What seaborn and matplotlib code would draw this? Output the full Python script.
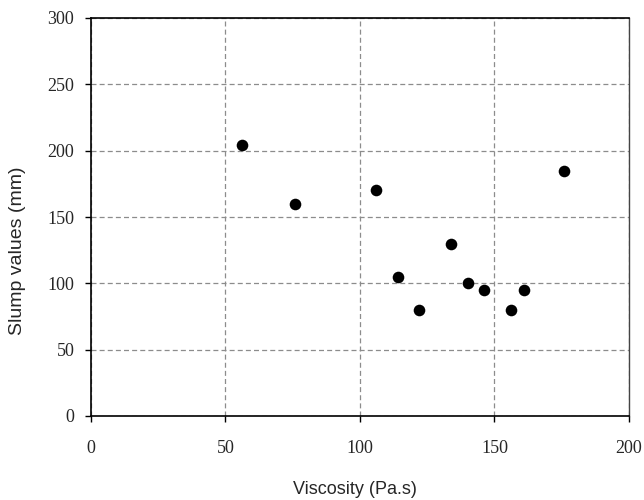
import matplotlib
matplotlib.use("Agg")
import matplotlib.pyplot as plt
import seaborn as sns
import pandas as pd

viscosity = [56, 76, 106, 114, 122, 134, 140, 146, 156, 161, 176]
slump = [204, 160, 170, 105, 80, 130, 100, 95, 80, 95, 185]
x_ticks = [0, 50, 100, 150, 200]
y_ticks = [0, 50, 100, 150, 200, 250, 300]

df = pd.DataFrame({"Viscosity": viscosity, "Slump": slump})

sns.set_style("white")
fig = plt.figure(figsize=(6.44, 5.0), dpi=100)
ax = fig.add_axes([0.1413, 0.168, 0.8354, 0.796])

sns.scatterplot(data=df, x="Viscosity", y="Slump", ax=ax, color="black",
                s=70, edgecolor="black", linewidth=0, zorder=3)

ax.set_xlim(0, 200)
ax.set_ylim(0, 300)
ax.set_xticks(x_ticks)
ax.set_yticks(y_ticks)
ax.grid(True, linestyle=(0, (4, 2.5)), color="#8c8c8c", linewidth=0.9)
ax.set_axisbelow(True)
for s in ax.spines.values():
    s.set_color("black")
    s.set_linewidth(1.2)
    s.set_visible(True)
ax.spines["right"].set_color("#444444")
ax.spines["right"].set_linewidth(1.0)

ax.tick_params(axis="both", direction="out", length=4, width=1, color="black",
               bottom=True, left=True)
ax.tick_params(axis="x", pad=13)
ax.tick_params(axis="y", pad=8)
for lab in ax.get_xticklabels() + ax.get_yticklabels():
    lab.set_fontfamily("Liberation Serif")
    lab.set_fontsize(13)

ax.set_xlabel("")
ax.set_ylabel("")
fig.text(0.551, 0.022, "Viscosity (Pa.s)", ha="center", va="center",
         fontsize=13, family="Liberation Sans")
fig.text(0.027, 0.498, "Slump values (mm)", ha="center", va="center",
         rotation=90, fontsize=14, family="Liberation Sans")

fig.savefig("out.png", dpi=100)
